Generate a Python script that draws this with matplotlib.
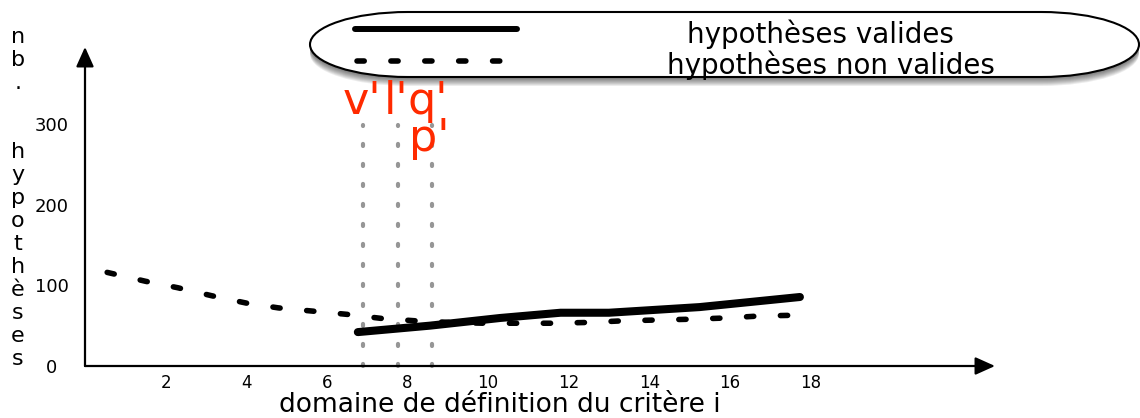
# Hypothèses valides / non valides selon le critère i
import numpy as np
import matplotlib.pyplot as plt
from matplotlib.patches import PathPatch
from matplotlib.path import Path
from matplotlib.lines import Line2D

x_valides = [6.77, 8.56, 10.3, 11.8, 13.0, 15.25, 17.74]
y_valides = [42, 50, 59.5, 66, 66, 73, 85.5]

x_non_valides = [0.55, 1.5, 2.3, 3.15, 4.0, 4.8, 5.65, 6.5, 7.35, 8.2, 9.05,
                 9.9, 10.75, 11.6, 12.5, 13.35, 14.2, 15.05, 15.9, 16.75, 17.74]
y_non_valides = [116, 105, 97, 87, 78, 72, 68, 64, 59, 56, 54,
                 53, 53, 53, 54, 56, 57, 58, 59.5, 62, 63]

x_reperes = [6.9, 7.76, 8.6]
haut_reperes = 299

xticks = [2, 4, 6, 8, 10, 12, 14, 16, 18]
yticks = [0, 100, 200, 300]
ylabel = "nb.  hypothèses"
legende = ["hypothèses valides", "hypothèses non valides"]

W, H = 1140, 418
fig = plt.figure(figsize=(W / 100, H / 100), dpi=100)
ax = fig.add_axes([85 / W, 1 - 366 / H, 910 / W, 319 / H])
ax.set_xlim(0, 910 / 40.3)
ax.set_ylim(0, 319 / 0.807)

for s in ax.spines.values():
    s.set_visible(False)

# axes avec flèches
fleche = dict(arrowstyle='-|>,head_length=0.6,head_width=0.27', lw=1.6,
              color='k', mutation_scale=20, shrinkA=0, shrinkB=0)
ax.annotate('', xy=(1, 0), xytext=(0, 0), xycoords='axes fraction', arrowprops=fleche)
ax.annotate('', xy=(0, 1), xytext=(0, 0), xycoords='axes fraction', arrowprops=fleche)

ax.set_xticks(xticks)
ax.set_xticklabels([str(t) for t in xticks])
ax.set_yticks(yticks)
ax.set_yticklabels([str(t) for t in yticks])
ax.tick_params(axis='x', length=0, pad=6, labelsize=12)
ax.tick_params(axis='y', length=0, pad=24, labelsize=13)
for lab in ax.get_yticklabels():
    lab.set_horizontalalignment('center')

# lignes verticales pointillées
for xr in x_reperes:
    ax.plot([xr, xr], [0, haut_reperes], color='#969696', lw=3,
            linestyle=(0, (0.5, 4.3)), dash_capstyle='round', clip_on=False)

ax.plot(x_non_valides, y_non_valides, color='k', lw=4.0,
        linestyle=(0, (1.3, 4.8)), dash_capstyle='round')
ax.plot(x_valides, y_valides, color='k', lw=5.8, solid_capstyle='round')

# étiquettes rouges
rouge = '#ff2a00'
for txt, xp, yp in [("v'", 343, 114), ("l'", 384, 114), ("q'", 408, 114), ("p'", 409, 151)]:
    fig.text(xp / W, 1 - yp / H, txt, color=rouge, fontsize=32,
             ha='left', va='baseline')

# titre vertical de l'axe y
for i, ch in enumerate(ylabel):
    if ch == ' ':
        continue
    fig.text(18 / W, 1 - (37 + 23 * i) / H, ch, fontsize=16,
             ha='center', va='center')

fig.text(500 / W, 1 - 412 / H, "domaine de définition du critère i",
         fontsize=19, ha='center', va='baseline')


def capsule(x0, y0, x1, y1, rx):
    # rectangle aux extrémités en demi-ellipse (coordonnées pixels)
    ry = (y1 - y0) / 2
    k = 0.5523
    yc = (y0 + y1) / 2
    verts = [(x0 + rx, y1), (x1 - rx, y1),
             (x1 - rx + k * rx, y1), (x1, yc + k * ry), (x1, yc),
             (x1, yc - k * ry), (x1 - rx + k * rx, y0), (x1 - rx, y0),
             (x0 + rx, y0),
             (x0 + rx - k * rx, y0), (x0, yc - k * ry), (x0, yc),
             (x0, yc + k * ry), (x0 + rx - k * rx, y1), (x0 + rx, y1),
             (x0 + rx, y1)]
    codes = [Path.MOVETO, Path.LINETO,
             Path.CURVE4, Path.CURVE4, Path.CURVE4,
             Path.CURVE4, Path.CURVE4, Path.CURVE4,
             Path.LINETO,
             Path.CURVE4, Path.CURVE4, Path.CURVE4,
             Path.CURVE4, Path.CURVE4, Path.CURVE4,
             Path.CLOSEPOLY]
    verts = [(vx / W, 1 - vy / H) for vx, vy in verts]
    return Path(verts, codes)


# légende en forme de capsule avec ombre
for k in range(10):
    ombre = PathPatch(capsule(310, 13 + 1.0 * k, 1139, 77 + 1.0 * k, 98),
                      transform=fig.transFigure, facecolor='k',
                      edgecolor='none', alpha=0.075)
    fig.add_artist(ombre)
boite = PathPatch(capsule(310, 12, 1139, 77, 98), transform=fig.transFigure,
                  facecolor='white', edgecolor='k', lw=1.5)
fig.add_artist(boite)

fig.add_artist(Line2D([355 / W, 517 / W], [1 - 29 / H, 1 - 29 / H],
                      transform=fig.transFigure, color='k', lw=4.3,
                      solid_capstyle='round'))
fig.add_artist(Line2D([357 / W, 505 / W], [1 - 61 / H, 1 - 61 / H],
                      transform=fig.transFigure, color='k', lw=4.0,
                      linestyle=(0, (1.3, 4.8)), dash_capstyle='round'))
fig.text(687 / W, 1 - 34 / H, legende[0], fontsize=20, ha='left', va='center')
fig.text(667 / W, 1 - 65 / H, legende[1], fontsize=20, ha='left', va='center')

fig.savefig('out.png', dpi=100)
